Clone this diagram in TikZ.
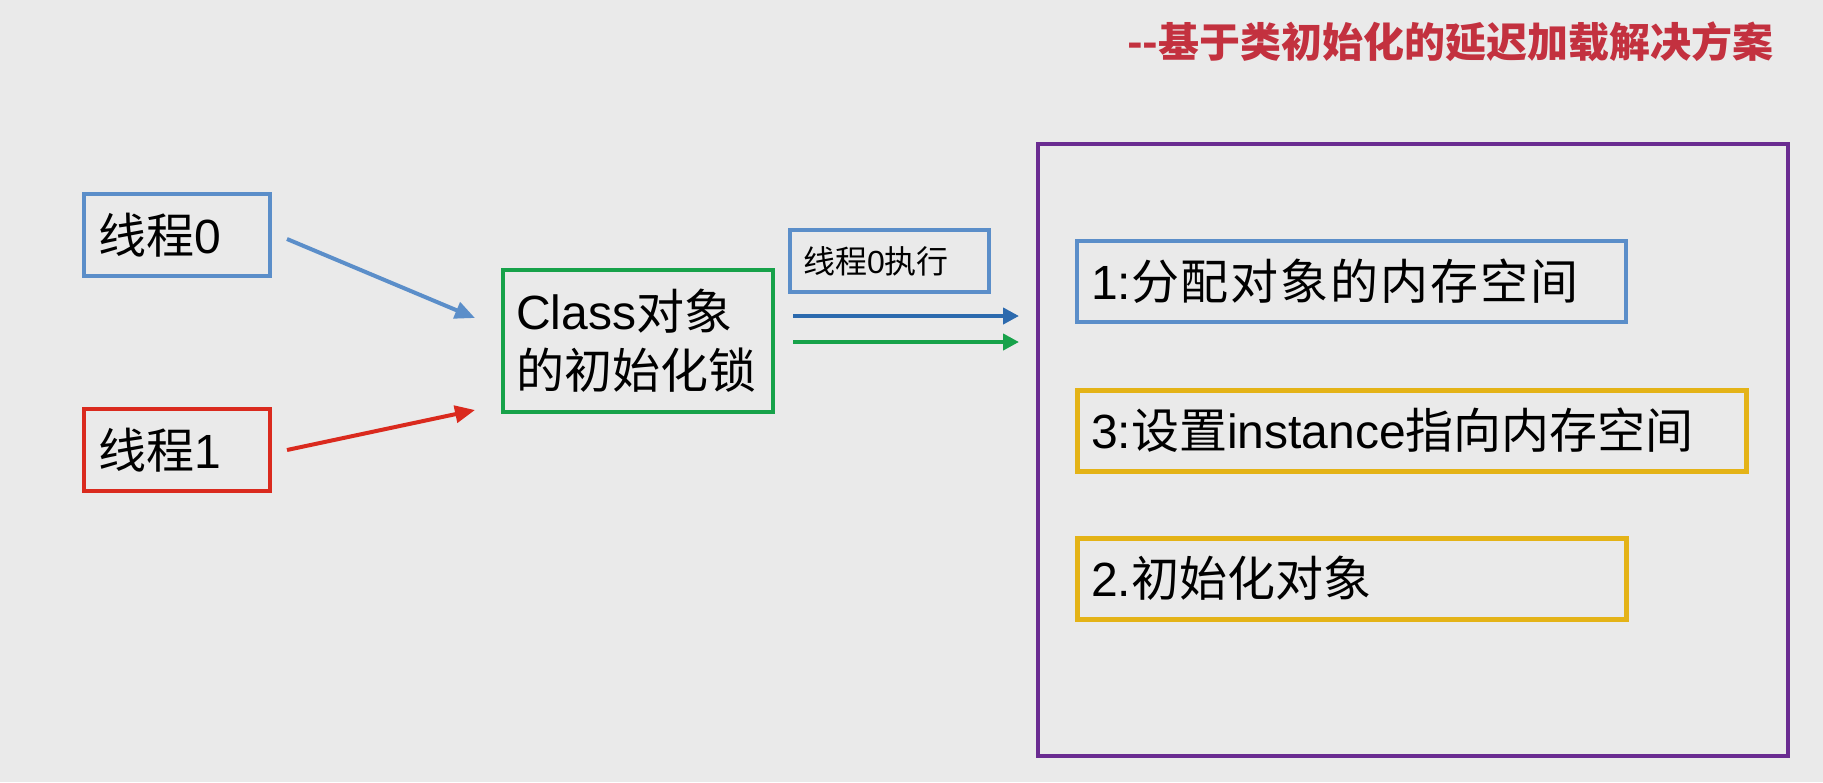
\documentclass[tikz,border=0pt]{standalone}
\usepackage{fontspec}
\setmainfont{Liberation Sans}
\newfontfamily\cjk{Noto Sans CJK SC}
\newfontfamily\cjkwide[LetterSpace=4]{Noto Sans CJK SC}
\usetikzlibrary{arrows.meta}

\definecolor{bggray}{RGB}{234,234,234}
\definecolor{tblue}{RGB}{91,142,201}
\definecolor{tred}{RGB}{218,42,30}
\definecolor{tgreen}{RGB}{23,162,74}
\definecolor{tpurple}{RGB}{106,44,145}
\definecolor{tgold}{RGB}{228,179,23}
\definecolor{arrowblue}{RGB}{44,106,174}
\definecolor{titlered}{RGB}{195,49,63}

\begin{document}
\begin{tikzpicture}[x=0.5pt,y=-0.5pt,
  box/.style={draw=#1,line width=2pt,inner xsep=7pt,inner ysep=0pt,align=left,text=black,font=\fontsize{24}{29.5}\selectfont},
  flow/.style={line width=2pt,-{Triangle[length=10pt,width=8.5pt]}},
  lockflow/.style={line width=2.2pt,-{Triangle[length=8pt,width=8pt]}}]

\fill[bggray] (0,0) rectangle (1823,782);

% title
\node[anchor=east,inner sep=0pt,text=titlered,font=\cjk\bfseries\fontsize{20.5}{21}\selectfont] (title) at (1774,42) {--基于类初始化的延迟加载解决方案};

% threads and lock
\node[box=tblue,text width=79pt,minimum height=41pt] (t0) at (177,235) {{\cjk 线程}0};
\node[box=tred,text width=79pt,minimum height=41pt] (t1) at (177,450) {{\cjk 线程}1};
\node[box=tgreen,inner xsep=6.5pt,text width=122pt,minimum height=71pt] (lock) at (638,341) {Class{\cjk 对象}\\{\cjk 的初始化锁}};
\node[box=tblue,inner xsep=6.5pt,text width=86.5pt,minimum height=31pt,font=\fontsize{16}{18}\selectfont] (exec) at (889.5,261) {{\cjk 线程}0{\cjk 执行}};

\coordinate (in0) at (475,318);
\coordinate (in1) at (475,410);
\draw[flow,tblue] (t0.east) ++(15,4) -- (in0);
\draw[flow,tred] (t1.east) ++(15,0) -- (in1);

\draw[lockflow,arrowblue] ([yshift=12.5pt]lock.east) ++(18,0) -- ++(226,0);
\draw[lockflow,tgreen] ([yshift=-0.5pt]lock.east) ++(18,0) -- ++(226,0);

% memory
\node[draw=tpurple,line width=1.75pt,minimum width=375pt,minimum height=306pt] (mem) at (1413,450) {};
\node[box=tblue,text width=260.5pt,minimum height=40.5pt] (s1) at (1351.5,281.5) {1:{\cjkwide 分配对象的内存空间}};
\node[box=tgold,line width=2.5pt,text width=320.5pt,minimum height=40.5pt] (s3) at (1411.5,430.5) {3:{\cjk 设置}instance{\cjk 指向内存空间}};
\node[box=tgold,line width=2.5pt,text width=260.5pt,minimum height=40.5pt] (s2) at (1351.5,578.5) {2.{\cjk 初始化对象}};
\end{tikzpicture}
\end{document}
